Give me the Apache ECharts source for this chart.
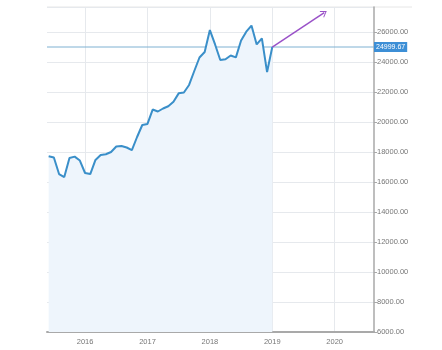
<!DOCTYPE html>
<html>
<head>
<meta charset="utf-8">
<script src="https://cdn.jsdelivr.net/npm/echarts@6/dist/echarts.min.js"></script>
<style>
  html, body { margin: 0; padding: 0; background: #fff; }
  #chart { width: 442px; height: 350px; }
</style>
</head>
<body>
<div id="chart"></div>
<script>
// Monthly closes, Jun 2015 – Jan 2019
const months = [
  '2015-06','2015-07','2015-08','2015-09','2015-10','2015-11','2015-12',
  '2016-01','2016-02','2016-03','2016-04','2016-05','2016-06','2016-07','2016-08','2016-09','2016-10','2016-11','2016-12',
  '2017-01','2017-02','2017-03','2017-04','2017-05','2017-06','2017-07','2017-08','2017-09','2017-10','2017-11','2017-12',
  '2018-01','2018-02','2018-03','2018-04','2018-05','2018-06','2018-07','2018-08','2018-09','2018-10','2018-11','2018-12',
  '2019-01'
];
const closes = [
  17720, 17630, 16530, 16330, 17600, 17690, 17430,
  16600, 16530, 17470, 17800, 17850, 18000, 18370, 18400, 18300, 18130, 19000, 19800,
  19870, 20830, 20700, 20900, 21050, 21350, 21910, 21970, 22470, 23400, 24300, 24670,
  26130, 25170, 24130, 24180, 24430, 24310, 25430, 26020, 26430, 25170, 25570, 23330,
  24999.67
];
const yearTicks = [2016, 2017, 2018, 2019, 2020];
const lastPrice = 24999.67;
// projected trend arrow: start and end
const trendFrom = ['2019-01', 24999.67];
const trendTo = ['2019-11', 27290];

const xMin = 2015.39;
const xMax = 2020.63;

function toYear(m) {
  const [y, mo] = m.split('-').map(Number);
  return y + (mo - 1) / 12;
}

const lineData = months.map((m, i) => [toYear(m), closes[i]]);

const chart = echarts.init(document.getElementById('chart'));
const font = 'Liberation Sans, Arial, sans-serif';

chart.setOption({
  animation: false,
  textStyle: { fontFamily: font },
  grid: { left: 47, right: 68, top: 7, bottom: 18, containLabel: false },
  xAxis: {
    type: 'value',
    min: xMin,
    max: xMax,
    axisLine: { show: true, lineStyle: { color: '#a9a9a9', width: 2 } },
    axisTick: { show: false, customValues: yearTicks },
    axisLabel: {
      customValues: yearTicks,
      formatter: v => String(v),
      fontSize: 7.5, color: '#777', margin: 6, fontFamily: font
    },
    splitLine: { show: true, lineStyle: { color: '#e6e9ed', width: 1 } }
  },
  yAxis: {
    type: 'value',
    position: 'right',
    min: 6000,
    max: 27667,
    interval: 2000,
    axisLine: { show: true, lineStyle: { color: '#a9a9a9', width: 1.5 } },
    axisTick: { show: true, length: 3, lineStyle: { color: '#a9a9a9' } },
    axisLabel: {
      showMaxLabel: false,
      formatter: v => v.toFixed(2),
      fontSize: 7.5, color: '#777', margin: 3, fontFamily: font
    },
    splitLine: { show: true, lineStyle: { color: '#e6e9ed', width: 1 } }
  },
  graphic: [{
    type: 'line',
    shape: { x1: 47, y1: 7, x2: 412, y2: 7 },
    style: { stroke: '#e6e6e6', lineWidth: 1 },
    silent: true
  }],
  series: [
    {
      type: 'line',
      data: lineData,
      showSymbol: false,
      lineStyle: { color: '#3a8fc9', width: 2 },
      areaStyle: { color: '#eef5fc', opacity: 1, origin: 'start' },
      z: 3
    },
    {
      // last-price reference line with its value tag on the axis
      type: 'line',
      data: [[xMin, lastPrice], [xMax, lastPrice]],
      showSymbol: false,
      silent: true,
      lineStyle: { color: '#7fb1d2', width: 1 },
      z: 2,
      endLabel: {
        show: true,
        distance: 0,
        formatter: () => lastPrice.toFixed(2),
        backgroundColor: '#3d8fd6',
        color: '#fff',
        fontSize: 7,
        padding: [2, 2, 1, 2],
        fontFamily: font
      }
    },
    {
      type: 'line',
      data: [],
      markLine: {
        silent: true,
        symbol: ['none', 'path://M0,10 L5,0 L10,10 L8.6,10 L5,2.8 L1.4,10 Z'],
        symbolSize: [8, 6],
        lineStyle: { color: '#9a52c8', width: 1.5, type: 'solid' },
        label: { show: false },
        data: [[
          { coord: [toYear(trendFrom[0]), trendFrom[1]] },
          { coord: [toYear(trendTo[0]), trendTo[1]] }
        ]]
      }
    }
  ]
});
</script>
</body>
</html>
